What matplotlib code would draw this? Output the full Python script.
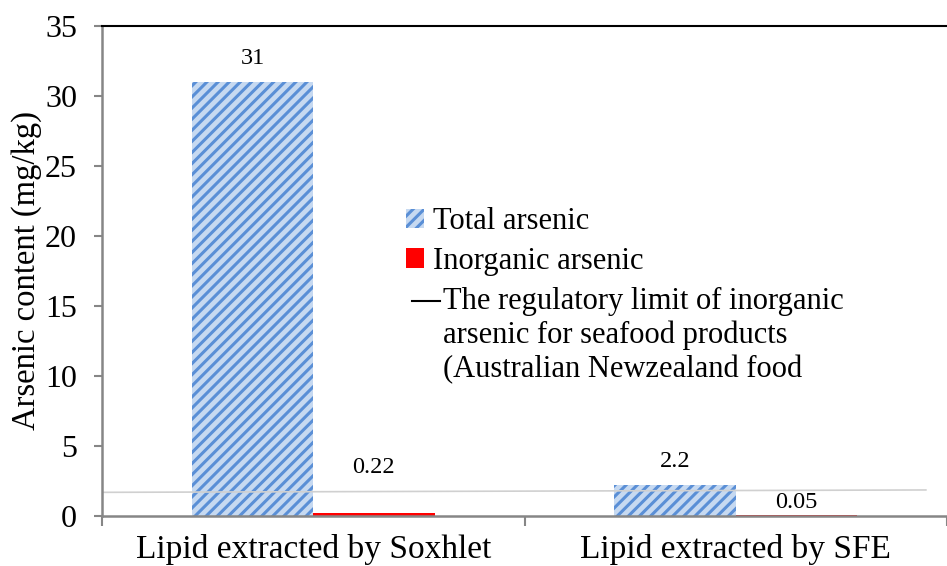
import numpy as np
import matplotlib.pyplot as plt
from matplotlib.patches import Patch
from matplotlib.lines import Line2D

plt.rcParams['font.family'] = ['Liberation Serif', 'DejaVu Serif']
plt.rcParams['hatch.linewidth'] = 2.2

# Arsenic content of extracted lipid (mg/kg)
categories = ['Lipid extracted by Soxhlet', 'Lipid extracted by SFE']
total_arsenic = [31, 2.2]
inorganic_arsenic = [0.22, 0.05]
# regulatory limit line, drawn across the chart
limit_x = [-0.5, 1.45]
limit_y = [1.69, 1.86]
limit_label = ['The regulatory limit of inorganic',
               'arsenic for seafood products',
               '(Australian Newzealand food']

x = np.arange(len(categories))
w = 0.287

fig = plt.figure(figsize=(9.47, 5.66), dpi=100)
ax = fig.add_axes([102 / 947, 50 / 566, 845 / 947, 490 / 566])

ax.bar(x - w / 2, total_arsenic, w, facecolor='#c6d9f1', edgecolor='#5a8fd6',
       hatch='///', linewidth=0)
ax.bar(x + w / 2, inorganic_arsenic, w, color='#ff0000', linewidth=0)
ax.plot(limit_x, limit_y, color='#d0d0d0', lw=1.2, zorder=1)

# value labels above the bars
offsets = [(17, 33), (17, 9)]
for i in range(len(categories)):
    ax.annotate(str(total_arsenic[i]), (x[i] - w / 2, total_arsenic[i]),
                xytext=(0, offsets[i][0]), textcoords='offset points',
                ha='center', va='center', fontsize=17.5)
    ax.annotate(str(inorganic_arsenic[i]), (x[i] + w / 2, inorganic_arsenic[i]),
                xytext=(0, offsets[i][1]), textcoords='offset points',
                ha='center', va='center', fontsize=17.5)

ax.set_xlim(-0.5, 1.4697)
ax.set_ylim(0, 35)
ax.set_yticks(range(0, 36, 5))
ax.set_xticks([-0.5, 0.5, 1.5], minor=True)
ax.set_xticks(x)
ax.set_xticklabels(categories, fontsize=24)
ax.tick_params(axis='x', which='major', length=0, pad=13)
ax.tick_params(axis='x', which='minor', length=7, width=1.5, color='#868686')
ax.tick_params(axis='y', length=6, width=1.5, color='#868686', pad=12,
               labelsize=23)
ax.set_ylabel('Arsenic content (mg/kg)', fontsize=23.5)
ax.yaxis.set_label_coords(-0.071, 0.5)

ax.spines['right'].set_visible(False)
for s in ['left', 'bottom']:
    ax.spines[s].set_color('#868686')
    ax.spines[s].set_linewidth(1.8)
ax.spines['top'].set_color('black')
ax.spines['top'].set_linewidth(1.5)

handles = [
    Patch(facecolor='#c6d9f1', edgecolor='#5a8fd6', hatch='///', linewidth=0),
    Patch(facecolor='#ff0000', linewidth=0),
]
leg = ax.legend(handles, ['Total arsenic', 'Inorganic arsenic'], loc='upper left',
                bbox_to_anchor=(0.345, 0.655), frameon=False, fontsize=22,
                handlelength=0.6, handleheight=0.6, handletextpad=0.3,
                labelspacing=0.35, borderaxespad=0)

# third legend entry (line key + wrapped label), placed below the legend
fig.canvas.draw()
bb = leg.get_texts()[1].get_window_extent()
tx = bb.x0
ty = (bb.y0 + bb.y1) / 2 - 40
to_fig = fig.transFigure.inverted()
p1 = to_fig.transform((tx - 21, ty))
p2 = to_fig.transform((tx + 7, ty))
fig.add_artist(Line2D([p1[0], p2[0]], [p1[1], p2[1]], color='black', lw=1.5,
                      transform=fig.transFigure))
for k, line in enumerate(limit_label):
    px, py = to_fig.transform((tx + 10, ty - 34 * k))
    fig.text(px, py, line, fontsize=22, ha='left', va='center')

fig.savefig('out.png', dpi=100)
